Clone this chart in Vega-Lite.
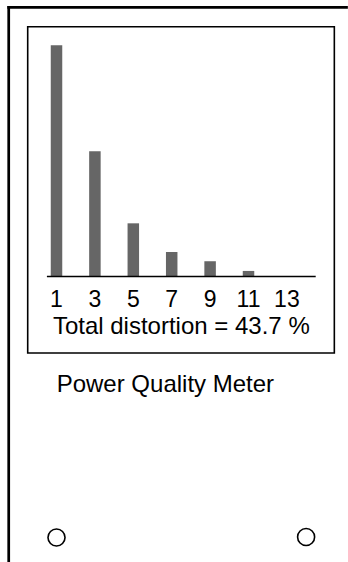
{
  "$schema": "https://vega.github.io/schema/vega-lite/v6.json",
  "width": 348,
  "height": 562,
  "autosize": "none",
  "padding": 0,
  "background": "white",
  "config": {"view": {"stroke": null}, "font": "Liberation Sans", "scale": {"continuousPadding": 0}},
  "datasets": {
    "harmonics": [
      {"harmonic": 1, "amplitude": 100},
      {"harmonic": 3, "amplitude": 54.2},
      {"harmonic": 5, "amplitude": 23.0},
      {"harmonic": 7, "amplitude": 10.6},
      {"harmonic": 9, "amplitude": 6.6},
      {"harmonic": 11, "amplitude": 2.4},
      {"harmonic": 13, "amplitude": 0}
    ],
    "panel": [
      {"device": "Power Quality Meter", "reading": "Total distortion = 43.7 %"}
    ]
  },
  "layer": [
    {
      "data": {"name": "panel"},
      "mark": {"type": "rect", "color": "black"},
      "encoding": {
        "x": {"datum": -1.56, "type": "quantitative", "scale": {"domain": [-1.943, 16.182], "nice": false, "zero": false, "padding": 0}, "axis": null},
        "x2": {"datum": 16.175},
        "y": {"datum": 117.0, "type": "quantitative", "scale": {"domain": [-123.5, 119.6], "nice": false, "zero": false, "padding": 0}, "axis": null},
        "y2": {"datum": 115.8}
      }
    },
    {
      "data": {"name": "panel"},
      "mark": {"type": "rect", "color": "black"},
      "encoding": {
        "x": {"datum": -1.56, "type": "quantitative", "scale": {"domain": [-1.943, 16.182], "nice": false, "zero": false, "padding": 0}, "axis": null},
        "x2": {"datum": -1.418},
        "y": {"datum": 117.0, "type": "quantitative", "scale": {"domain": [-123.5, 119.6], "nice": false, "zero": false, "padding": 0}, "axis": null},
        "y2": {"datum": -123.45}
      }
    },
    {
      "data": {"name": "panel"},
      "mark": {"type": "rect", "filled": false, "stroke": "black", "strokeWidth": 1.6},
      "encoding": {
        "x": {"datum": -0.5, "type": "quantitative", "scale": {"domain": [-1.943, 16.182], "nice": false, "zero": false, "padding": 0}, "axis": null},
        "x2": {"datum": 15.47},
        "y": {"datum": 108.0, "type": "quantitative", "scale": {"domain": [-123.5, 119.6], "nice": false, "zero": false, "padding": 0}, "axis": null},
        "y2": {"datum": -33.1}
      }
    },
    {
      "data": {"name": "harmonics"},
      "mark": {"type": "bar", "color": "#666666", "size": 11.5},
      "encoding": {
        "x": {"field": "harmonic", "type": "quantitative", "scale": {"domain": [-1.943, 16.182], "nice": false, "zero": false, "padding": 0}, "axis": null},
        "y": {"field": "amplitude", "type": "quantitative", "scale": {"domain": [-123.5, 119.6], "nice": false, "zero": false, "padding": 0}, "axis": null},
        "y2": {"datum": 0}
      }
    },
    {
      "data": {"name": "panel"},
      "mark": {"type": "rule", "color": "black", "strokeWidth": 1.6},
      "encoding": {
        "x": {"datum": 0.5, "type": "quantitative", "scale": {"domain": [-1.943, 16.182], "nice": false, "zero": false, "padding": 0}, "axis": null},
        "x2": {"datum": 14.5},
        "y": {"datum": 0, "type": "quantitative", "scale": {"domain": [-123.5, 119.6], "nice": false, "zero": false, "padding": 0}, "axis": null}
      }
    },
    {
      "data": {"name": "harmonics"},
      "mark": {"type": "text", "fontSize": 23, "align": "center", "baseline": "alphabetic", "color": "black", "font": "Liberation Sans"},
      "encoding": {
        "x": {"field": "harmonic", "type": "quantitative", "scale": {"domain": [-1.943, 16.182], "nice": false, "zero": false, "padding": 0}, "axis": null},
        "y": {"datum": -13.0, "type": "quantitative", "scale": {"domain": [-123.5, 119.6], "nice": false, "zero": false, "padding": 0}, "axis": null},
        "text": {"field": "harmonic", "type": "quantitative"}
      }
    },
    {
      "data": {"name": "panel"},
      "mark": {"type": "text", "fontSize": 24, "align": "center", "baseline": "alphabetic", "color": "black", "font": "Liberation Sans"},
      "encoding": {
        "x": {"datum": 7.5, "type": "quantitative", "scale": {"domain": [-1.943, 16.182], "nice": false, "zero": false, "padding": 0}, "axis": null},
        "y": {"datum": -24.7, "type": "quantitative", "scale": {"domain": [-123.5, 119.6], "nice": false, "zero": false, "padding": 0}, "axis": null},
        "text": {"field": "reading", "type": "nominal"}
      }
    },
    {
      "data": {"name": "panel"},
      "mark": {"type": "text", "fontSize": 24, "align": "center", "baseline": "alphabetic", "color": "black", "font": "Liberation Sans"},
      "encoding": {
        "x": {"datum": 6.67, "type": "quantitative", "scale": {"domain": [-1.943, 16.182], "nice": false, "zero": false, "padding": 0}, "axis": null},
        "y": {"datum": -50.1, "type": "quantitative", "scale": {"domain": [-123.5, 119.6], "nice": false, "zero": false, "padding": 0}, "axis": null},
        "text": {"field": "device", "type": "nominal"}
      }
    },
    {
      "data": {"name": "panel"},
      "mark": {"type": "point", "shape": "circle", "filled": false, "stroke": "black", "strokeWidth": 1.6, "size": 290, "opacity": 1},
      "encoding": {
        "x": {"datum": 1.0, "type": "quantitative", "scale": {"domain": [-1.943, 16.182], "nice": false, "zero": false, "padding": 0}, "axis": null},
        "y": {"datum": -112.9, "type": "quantitative", "scale": {"domain": [-123.5, 119.6], "nice": false, "zero": false, "padding": 0}, "axis": null}
      }
    },
    {
      "data": {"name": "panel"},
      "mark": {"type": "point", "shape": "circle", "filled": false, "stroke": "black", "strokeWidth": 1.6, "size": 290, "opacity": 1},
      "encoding": {
        "x": {"datum": 14.0, "type": "quantitative", "scale": {"domain": [-1.943, 16.182], "nice": false, "zero": false, "padding": 0}, "axis": null},
        "y": {"datum": -112.7, "type": "quantitative", "scale": {"domain": [-123.5, 119.6], "nice": false, "zero": false, "padding": 0}, "axis": null}
      }
    }
  ]
}
